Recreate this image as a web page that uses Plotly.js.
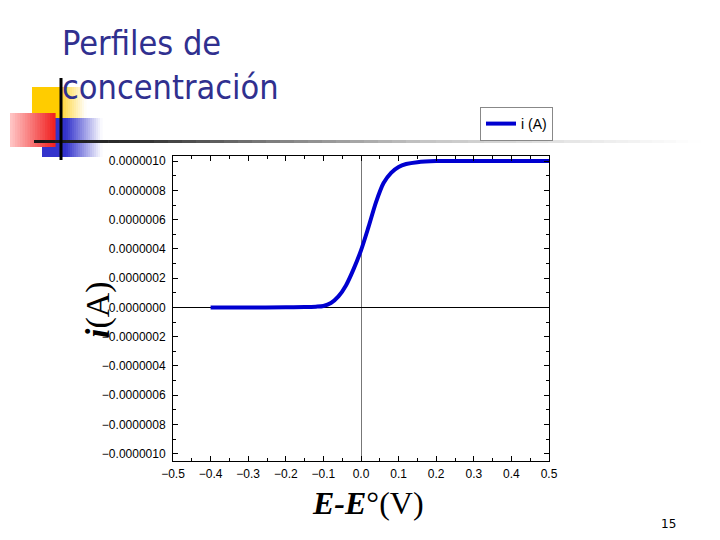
<!DOCTYPE html>
<html>
<head>
<meta charset="utf-8">
<script src="https://cdn.plot.ly/plotly-3.0.1.min.js"></script>
<style>html,body{margin:0;padding:0;background:#fff;}#chart{width:720px;height:540px;}</style>
</head>
<body>
<div id="chart"></div>
<script>
// ---- data ----
const potential = [-0.4, -0.3, -0.2, -0.15, -0.12, -0.1, -0.08, -0.06, -0.04, -0.02, 0.0, 0.02, 0.04, 0.06, 0.08, 0.1, 0.12, 0.15, 0.2, 0.3, 0.4, 0.5];
const currentMicro = [0.0, 0.0, 0.0005, 0.002, 0.005, 0.01, 0.03, 0.075, 0.15, 0.26, 0.39, 0.55, 0.72, 0.85, 0.92, 0.96, 0.98, 0.993, 1.0, 1.0, 1.0, 1.0];
const current = currentMicro.map(v => v * 1e-6);
const seriesName = 'i (A)';
const slideTitle = 'Perfiles de<br>concentración';
const xTitle = '<b><i>E-E</i></b>°(V)';
const yTitle = '<b><i>i</i></b>(A)';
const pageNumber = '15';

// ---- layout helpers (pixel -> paper) ----
const L = 173, R = 549, T = 156, B = 461;
const PX = p => (p - L) / (R - L);
const PY = p => (B - p) / (B - T);
const shapes = [];
function rect(x0, x1, y0, y1, color) {
  shapes.push({type: 'rect', xref: 'paper', yref: 'paper', x0: PX(x0), x1: PX(x1), y0: PY(y1), y1: PY(y0),
    fillcolor: color, line: {width: 0}});
}
function mix(a, b, t) { return 'rgb(' + a.map((v, i) => Math.round(v + (b[i] - v) * t)).join(',') + ')'; }
function grad(x0, x1, y0, y1, c0, c1, n) {
  const w = (x1 - x0) / n;
  for (let k = 0; k < n; k++) rect(x0 + k * w, x0 + (k + 1) * w + 0.6, y0, y1, mix(c0, c1, (k + 0.5) / n));
}
const WHITE = [255, 255, 255];
// yellow square
rect(32, 62, 87, 120, 'rgb(255,204,0)');
grad(62, 86, 87, 120, [255, 214, 60], WHITE, 12);
// blue rectangle
rect(42, 66, 118, 157, 'rgb(51,51,204)');
grad(66, 102, 118, 157, [51, 51, 204], WHITE, 18);
// red square
grad(10, 55, 113, 147, [255, 200, 200], [240, 30, 30], 18);
// horizontal rule
const stops = [[34, [20, 20, 20]], [140, [50, 50, 50]], [280, [130, 130, 130]], [420, [195, 195, 195]], [580, [232, 232, 232]], [700, [255, 255, 255]]];
for (let s = 0; s < stops.length - 1; s++) grad(stops[s][0], stops[s + 1][0], 140, 143, stops[s][1], stops[s + 1][1], 10);
// vertical black line
rect(59.5, 62.5, 78, 160, 'rgb(0,0,0)');

const trace = {
  x: potential, y: current, type: 'scatter', mode: 'lines', name: seriesName,
  line: {color: '#0000d0', width: 4, shape: 'spline', smoothing: 0.8}
};

const axisCommon = {
  showgrid: false, showline: true, linecolor: '#000', linewidth: 1, mirror: 'ticks',
  ticks: 'inside', ticklen: 5, tickcolor: '#000', tickwidth: 1,
  tickfont: {family: 'Liberation Sans, Arial, sans-serif', size: 12, color: '#000'},
  zeroline: true, zerolinewidth: 1
};

const layout = {
  width: 720, height: 540,
  margin: {l: L, r: 720 - R, t: T, b: 540 - B, pad: 0},
  paper_bgcolor: '#fff', plot_bgcolor: '#fff',
  showlegend: true,
  legend: {x: PX(480), y: PY(141), xanchor: 'left', yanchor: 'bottom', bgcolor: '#fff', bordercolor: '#888', borderwidth: 1,
    font: {family: 'Liberation Sans, Arial, sans-serif', size: 14, color: '#000'}, itemwidth: 30, tracegroupgap: 0},
  xaxis: Object.assign({}, axisCommon, {
    range: [-0.5, 0.5], dtick: 0.1, tick0: 0, tickformat: '.1f', zerolinecolor: '#777',
    minor: {dtick: 0.05, ticks: 'inside', ticklen: 3, tickcolor: '#000'}, ticklabelstandoff: 2
  }),
  yaxis: Object.assign({}, axisCommon, {
    range: [-1.05e-6, 1.035e-6], dtick: 2e-7, tick0: 0, tickformat: '.7f', zerolinecolor: '#000',
    minor: {dtick: 1e-7, ticks: 'inside', ticklen: 3, tickcolor: '#000'}, ticklabelstandoff: 4
  }),
  shapes: shapes,
  annotations: [
    {text: slideTitle, xref: 'paper', yref: 'paper', x: PX(60), y: PY(21), xanchor: 'left', yanchor: 'top', align: 'left',
      showarrow: false, font: {family: 'DejaVu Sans Condensed, DejaVu Sans, sans-serif', size: 34, color: '#30308f'}},
    {text: xTitle, xref: 'paper', yref: 'paper', x: PX(368), y: PY(503), xanchor: 'center', yanchor: 'middle',
      showarrow: false, font: {family: 'Liberation Serif, Times New Roman, serif', size: 32, color: '#000'}},
    {text: yTitle, xref: 'paper', yref: 'paper', x: PX(98), y: PY(310), xanchor: 'center', yanchor: 'middle', textangle: -90,
      showarrow: false, font: {family: 'Liberation Serif, Times New Roman, serif', size: 34, color: '#000'}},
    {text: pageNumber, xref: 'paper', yref: 'paper', x: PX(668), y: PY(524), xanchor: 'center', yanchor: 'middle',
      showarrow: false, font: {family: 'DejaVu Sans, sans-serif', size: 12, color: '#000'}}
  ]
};

Plotly.newPlot('chart', [trace], layout, {displayModeBar: false, staticPlot: true});
</script>
</body>
</html>
